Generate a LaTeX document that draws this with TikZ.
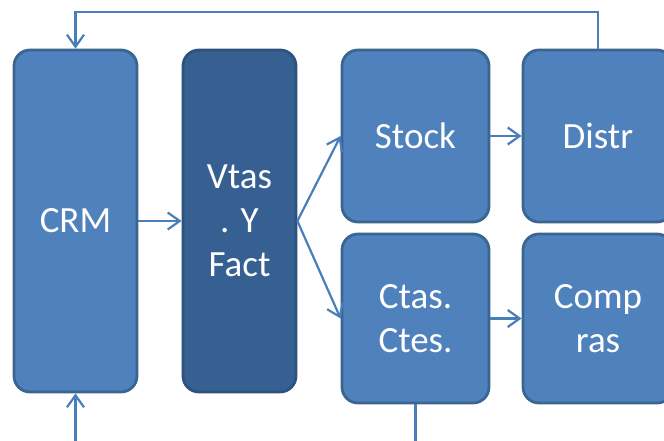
\documentclass[tikz,border=0pt]{standalone}
\usepackage{fontspec}
\setmainfont{Carlito}
\usetikzlibrary{arrows.meta}
\definecolor{boxfill}{HTML}{4F81BD}
\definecolor{boxline}{HTML}{3A6591}
\definecolor{darkfill}{HTML}{376092}
\definecolor{darkline}{HTML}{2E527E}
\definecolor{flow}{HTML}{4A7EBB}
\tikzset{
  block/.style={draw=boxline, fill=boxfill, line width=2.8pt, rounded corners=16pt,
    text=white, align=center, inner sep=0pt,
    font=\fontsize{37}{44}\selectfont},
  darkblock/.style={block, draw=darkline, fill=darkfill},
  flowline/.style={draw=flow, line width=2.2pt},
  flowarrow/.style={flowline, -{Straight Barb[length=12pt,width=17pt,line width=2.2pt]}}
}
\begin{document}
\begin{tikzpicture}[x=1pt, y=-1pt]
  \useasboundingbox (0,0) rectangle (664,441);
  \clip (0,0) rectangle (664,441);
  % process blocks
  \node[block, minimum width=123pt, minimum height=342pt] (crm) at (75.5,221) {CRM};
  \node[darkblock, minimum width=113pt, minimum height=342pt] (vtas) at (239.5,221) {Vtas\\. Y\\Fact};
  \node[block, minimum width=147pt, minimum height=172pt] (stock) at (415.5,136) {Stock};
  \node[block, minimum width=150pt, minimum height=172pt] (distr) at (598,136) {Distr};
  \node[block, minimum width=147pt, minimum height=169pt] (ctas) at (415.5,318.5) {Ctas.\\Ctes.};
  \node[block, minimum width=150pt, minimum height=169pt] (compras) at (598,318.5) {Comp\\ras};
  % free ends of the open connectors
  \coordinate (fb) at (75.5,12);
  \coordinate (inb) at (75.5,441);
  \coordinate (outb) at (415.5,441);
  % flows between blocks
  \draw[flowarrow] (crm.east) -- (vtas.west);
  \draw[flowarrow] (vtas.east) -- (stock.west);
  \draw[flowarrow] (vtas.east) -- (ctas.west);
  \draw[flowarrow] (stock.east) -- (distr.west);
  \draw[flowarrow] (ctas.east) -- (compras.west);
  % feedback loop over the top
  \draw[flowarrow] (distr.north) |- (fb) -- (crm.north);
  % inputs and outputs at the bottom edge
  \draw[flowarrow] (inb) -- (crm.south);
  \draw[flowline] (ctas.south) -- (outb);
\end{tikzpicture}
\end{document}
